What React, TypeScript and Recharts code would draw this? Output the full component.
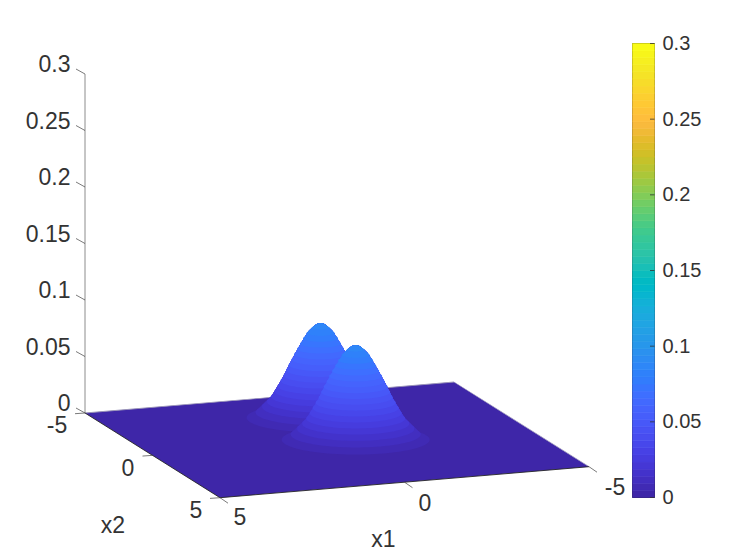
import React from "react";
import { ComposedChart, BarChart, Area, Bar, Line, XAxis, YAxis, ReferenceArea } from "recharts";

// --- values ---
const x1Ticks = [5, 0, -5];
const x2Ticks = [-5, 0, 5];
const zTicks = [0, 0.05, 0.1, 0.15, 0.2, 0.25, 0.3];
const zTickLabels = ["0", "0.05", "0.1", "0.15", "0.2", "0.25", "0.3"];
const colorbarTicks = [0, 0.05, 0.1, 0.15, 0.2, 0.25, 0.3];
const colorbarLabels = ["0", "0.05", "0.1", "0.15", "0.2", "0.25", "0.3"];
const bumpCentres = [
  { x1: -0.25, x2: -1.9 },
  { x1: -0.25, x2: 0.7 },
];
// half-width (in picture units) of each colour contour of a bump, lowest level first
const ringHalfWidths = [74, 65, 58.5, 53.5, 49.5, 46, 43, 40, 37, 34.5, 32, 29, 26.5, 23.5, 20.5, 17.5, 14, 9];
const ringFlattening = 0.2;
// outline of a bump against its background: sideways distance from the peak, height above the floor
const outlineOffsets = [0, 4, 8, 12, 15, 21, 30, 38, 49, 70, 82];
const outlineHeights = [100, 99, 95.6, 92, 87.3, 77.3, 61, 45, 27, 7, 0];
const zMax = 0.3;
const palette = [
  [0.2422, 0.1504, 0.6603], [0.2504, 0.165, 0.7076], [0.2578, 0.1818, 0.7511], [0.2647, 0.1978, 0.7952],
  [0.2706, 0.2147, 0.8364], [0.2751, 0.2342, 0.871], [0.2783, 0.2559, 0.8991], [0.2803, 0.2782, 0.9221],
  [0.2813, 0.3006, 0.9414], [0.281, 0.3228, 0.9579], [0.2795, 0.3447, 0.9717], [0.276, 0.3667, 0.9829],
  [0.2699, 0.3892, 0.9906], [0.2602, 0.4123, 0.9952], [0.244, 0.4358, 0.9988], [0.2206, 0.4603, 0.9973],
  [0.1963, 0.4847, 0.9892], [0.1834, 0.5074, 0.9798], [0.1786, 0.5289, 0.9682], [0.1764, 0.5499, 0.952],
  [0.1687, 0.5703, 0.9359], [0.154, 0.5902, 0.9218], [0.146, 0.6091, 0.9079], [0.138, 0.6276, 0.8973],
  [0.1248, 0.6459, 0.8883], [0.1113, 0.6635, 0.8763], [0.0952, 0.6798, 0.8598], [0.0689, 0.6948, 0.8394],
  [0.0297, 0.7082, 0.8163], [0.0036, 0.7203, 0.7917], [0.0067, 0.7312, 0.766], [0.0433, 0.7411, 0.7394],
  [0.0964, 0.75, 0.712], [0.1408, 0.7584, 0.6842], [0.1717, 0.767, 0.6554], [0.1938, 0.7758, 0.6251],
  [0.2161, 0.7843, 0.5923], [0.247, 0.7918, 0.5567], [0.2906, 0.7973, 0.5188], [0.3406, 0.8008, 0.4789],
  [0.3909, 0.8029, 0.4354], [0.4456, 0.8024, 0.3909], [0.5044, 0.7993, 0.348], [0.5616, 0.7942, 0.3045],
  [0.6174, 0.7876, 0.2612], [0.672, 0.7793, 0.2227], [0.7242, 0.7698, 0.191], [0.7738, 0.7598, 0.1646],
  [0.8203, 0.7498, 0.1535], [0.8634, 0.7406, 0.1596], [0.9035, 0.733, 0.1774], [0.9393, 0.7288, 0.21],
  [0.9728, 0.7298, 0.2394], [0.9956, 0.7434, 0.2371], [0.997, 0.7659, 0.2199], [0.9952, 0.7893, 0.2028],
  [0.9892, 0.8136, 0.1885], [0.9786, 0.8386, 0.1766], [0.9676, 0.8639, 0.1643], [0.961, 0.889, 0.1537],
  [0.9597, 0.9135, 0.1423], [0.9628, 0.9373, 0.1265], [0.9691, 0.9606, 0.1064], [0.9769, 0.9839, 0.0805],
];

// --- view: maps (x1, x2, z) to the plane of the picture ---
const W = 747;
const H = 560;
const FONT = "'Liberation Sans', Arial, sans-serif";
const TEXT = "#333333";
const project = (x1: number, x2: number, z: number) => ({
  h: 337 - 36.9 * x1 + 13.5 * x2,
  v: 439.85 + 3.1 * x1 + 8.47 * x2 - 1130 * z,
});
const colour = (c: number[]) => `rgb(${c[0] * 100}%,${c[1] * 100}%,${c[2] * 100}%)`;
const step = zMax / palette.length;

// floor
const cLeft = project(5, -5, 0);
const cBottom = project(5, 5, 0);
const cRight = project(-5, 5, 0);
const cBack = project(-5, -5, 0);
const lerpV = (a: any, b: any, h: number) => a.v + ((b.v - a.v) * (h - a.h)) / (b.h - a.h);
const floorData = [
  { h: cLeft.h, range: [cLeft.v, cLeft.v] },
  { h: cBottom.h, range: [cBottom.v, lerpV(cLeft, cBack, cBottom.h)] },
  { h: cBack.h, range: [lerpV(cBottom, cRight, cBack.h), cBack.v] },
  { h: cRight.h, range: [cRight.v, cRight.v] },
];
// the far rim of the floor, as a thin band so the bumps can hide it
const rim = (a: { h: number; v: number }, b: { h: number; v: number }, t: number) => [
  { h: a.h, range: [a.v + t, a.v - t] },
  { h: b.h, range: [b.v + t, b.v - t] },
];
const rimBands = [rim(cLeft, cBack, 0.4), rim(cBack, cRight, 0.35)];

const outlineHeight = (d: number) => {
  for (let i = 1; i < outlineOffsets.length; i++) {
    if (d <= outlineOffsets[i]) {
      const f = (d - outlineOffsets[i - 1]) / (outlineOffsets[i] - outlineOffsets[i - 1]);
      return outlineHeights[i - 1] + f * (outlineHeights[i] - outlineHeights[i - 1]);
    }
  }
  return 0;
};

// bump contour regions: each region is what is seen of the surface at or above a level
const levelRegion = (centre: { x1: number; x2: number }, k: number) => {
  const base = project(centre.x1, centre.x2, 0);
  const a = ringHalfWidths[k];
  const ringV = base.v - 1130 * step * (k + 1);
  const n = 48;
  const rows = [];
  for (let t = 0; t <= n; t++) {
    const h = base.h - a * Math.cos((Math.PI * t) / n);
    const u = (h - base.h) / a;
    const arc = ringFlattening * a * Math.sqrt(Math.max(0, 1 - u * u));
    const top = Math.min(ringV - arc, base.v - outlineHeight(Math.abs(h - base.h)));
    rows.push({ h, range: [ringV + arc, top] });
  }
  return rows;
};
const regions: { key: string; fill: string; data: any[] }[] = [];
rimBands.forEach((data, i) => regions.push({ key: `rim${i}`, fill: "#9a94b8", data }));
ringHalfWidths.forEach((_, k) => {
  bumpCentres.forEach((c, i) => {
    regions.push({ key: `b${i}-${k}`, fill: colour(palette[k + 1]), data: levelRegion(c, k) });
  });
});

// axis rules and tick marks
const seg = (a: { h: number; v: number }, dh: number, dv: number) => [
  { h: a.h, val: a.v },
  { h: a.h + dh, val: a.v + dv },
];
const line2 = (a: { h: number; v: number }, b: { h: number; v: number }) => [
  { h: a.h, val: a.v },
  { h: b.h, val: b.v },
];
const tickSegs = [
  ...zTicks.map((z) => seg(project(5, -5, z), -9, -5)),
  ...x1Ticks.map((x) => seg(project(x, 5, 0), 8, 5.5)),
  ...x2Ticks.map((x) => seg(project(5, x, 0), -10, 0.7)),
];

// text
const labelOffsets1 = [[20, 19], [20.5, 21], [26, 20]];
const labelOffsets2 = [[-28, 12], [-24.5, 13], [-24, 12]];
const mid = project(5, 0, 0);
const textRows: any[] = [
  ...zTicks.map((z, i) => {
    const p = project(5, -5, z);
    return { h: p.h - 14.5, val: p.v - 10, text: zTickLabels[i], anchor: "end" };
  }),
  ...x1Ticks.map((x, i) => {
    const p = project(x, 5, 0);
    return { h: p.h + labelOffsets1[i][0], val: p.v + labelOffsets1[i][1], text: String(x), anchor: "middle" };
  }),
  ...x2Ticks.map((x, i) => {
    const p = project(5, x, 0);
    return { h: p.h + labelOffsets2[i][0], val: p.v + labelOffsets2[i][1], text: String(x), anchor: "middle" };
  }),
  { h: mid.h + 231, val: mid.v + 84, text: "x1", anchor: "middle" },
  { h: mid.h - 39.5, val: mid.v + 70, text: "x2", anchor: "middle" },
];

const renderText = (p: any) => (
  <text
    key={p.index}
    x={p.cx}
    y={p.cy + 8}
    textAnchor={p.payload.anchor}
    fontFamily={FONT}
    fontSize={23}
    fill={TEXT}
  >
    {p.payload.text}
  </text>
);

const barRow = [Object.fromEntries(palette.map((_, i) => [`c${i}`, step]))];

const ColorbarTick = (p: any) => {
  const i = colorbarTicks.indexOf(p.payload.value);
  return (
    <g>
      <line x1={p.x - 12.5} x2={p.x - 8} y1={p.y} y2={p.y} stroke={TEXT} strokeWidth={0.8} />
      <text x={p.x} y={p.y + 6.5} fontFamily={FONT} fontSize={20} fill={TEXT}>
        {colorbarLabels[i]}
      </text>
    </g>
  );
};

const edge = { dot: false, activeDot: false, isAnimationActive: false, dataKey: "val" } as const;

export default function App() {
  return (
    <div style={{ position: "absolute", left: 0, top: 0, width: W, height: H, background: "#fff" }}>
      <div style={{ position: "absolute", left: 0, top: 0 }}>
        <ComposedChart width={W} height={H} margin={{ top: 0, right: 0, bottom: 0, left: 0 }} data={floorData}>
          <XAxis dataKey="h" type="number" domain={[0, W]} hide />
          <YAxis type="number" domain={[0, H]} reversed hide />
          <Line {...edge} data={line2(project(5, -5, 0), project(5, -5, zMax))} stroke="#7f7f7f" strokeWidth={0.9} />
          <Area
            data={floorData}
            dataKey="range"
            type="linear"
            fill={colour(palette[0])}
            fillOpacity={1}
            stroke="none"
            dot={false}
            activeDot={false}
            isAnimationActive={false}
          />
          {regions.map((r) => (
            <Area
              key={r.key}
              data={r.data}
              dataKey="range"
              type="linear"
              fill={r.fill}
              fillOpacity={1}
              stroke="none"
              dot={false}
              activeDot={false}
              isAnimationActive={false}
            />
          ))}
          <Line {...edge} data={line2(cLeft, cBottom)} stroke="#262626" strokeWidth={0.9} />
          <Line {...edge} data={line2(cBottom, cRight)} stroke="#262626" strokeWidth={0.9} />
          {tickSegs.map((s, i) => (
            <Line {...edge} key={`t${i}`} data={s} stroke="#404040" strokeWidth={0.7} />
          ))}
          <Line data={textRows} dataKey="val" stroke="none" dot={renderText} activeDot={false} isAnimationActive={false} />
        </ComposedChart>
      </div>
      <div style={{ position: "absolute", left: 0, top: 0 }}>
        <BarChart
          width={W}
          height={H}
          data={barRow}
          barCategoryGap={0}
          margin={{ top: 43.5, right: 32.5, bottom: 62.5, left: 632.5 }}
        >
          <XAxis hide />
          <YAxis
            orientation="right"
            type="number"
            domain={[0, zMax]}
            ticks={colorbarTicks}
            width={60}
            axisLine={false}
            tickLine={false}
            tick={<ColorbarTick />}
            interval={0}
          />
          {palette.map((c, i) => (
            <Bar key={i} dataKey={`c${i}`} stackId="cb" fill={colour(c)} stroke={colour(c)} strokeWidth={0.6} isAnimationActive={false} />
          ))}
          <ReferenceArea y1={0} y2={zMax} fill="none" stroke="#262626" strokeWidth={1} />
        </BarChart>
      </div>
    </div>
  );
}
